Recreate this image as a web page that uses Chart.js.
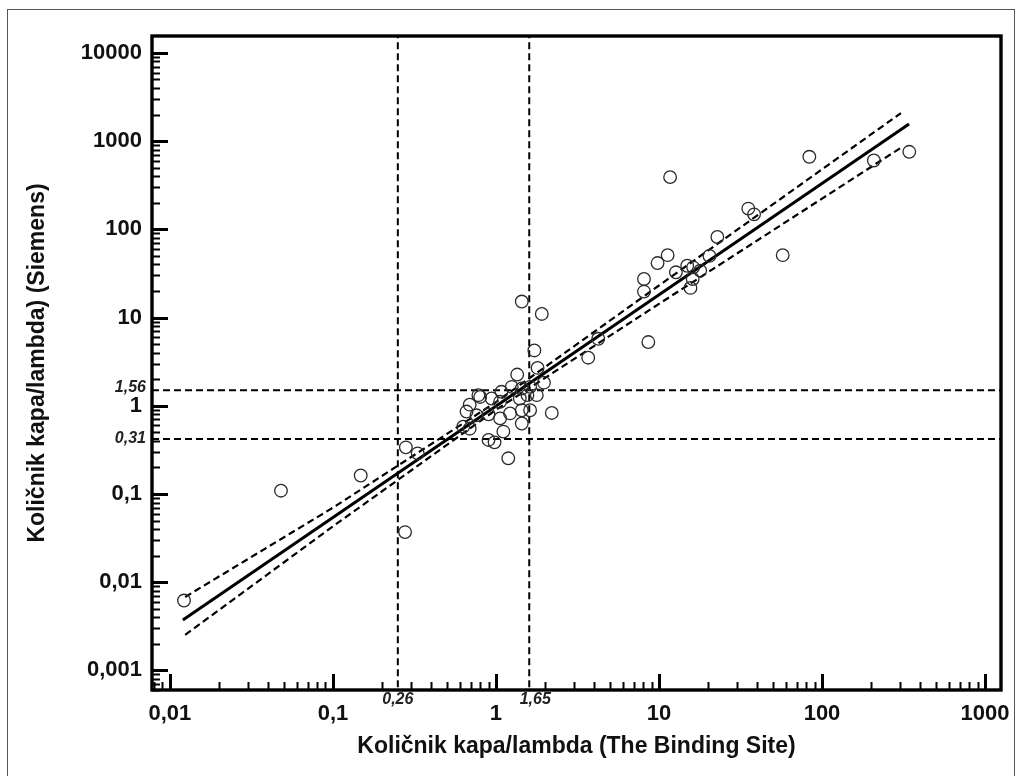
<!DOCTYPE html>
<html><head><meta charset="utf-8">
<script src="https://cdn.jsdelivr.net/npm/chart.js@4.4.0/dist/chart.umd.min.js"></script>
<style>html,body{margin:0;padding:0;background:#fff;}canvas{display:block;}</style>
</head><body>
<canvas id="c" width="1022" height="776"></canvas>
<script>
// ---- data ----
const bindingSite = [
  0.0122, 0.048, 0.148, 0.277, 0.28, 0.331,
  1.44, 1.91, 1.72, 1.80, 1.35, 1.97, 1.62, 1.44, 1.25, 1.78, 0.80, 0.94, 0.69, 1.06,
  1.40, 1.62, 1.44, 1.22, 2.20, 0.76, 0.90, 1.06, 1.44, 0.69, 1.11, 0.90, 0.98, 1.19,
  0.78, 0.63, 1.08, 0.66, 1.56,
  4.24, 3.68, 8.6, 8.09, 8.09, 15.6, 16.1, 17.9, 12.7, 16.2, 14.9, 20.4, 9.8, 11.3,
  57.4, 22.8, 38.3, 35.3, 11.7, 83.6, 208, 343
];
const siemens = [
  0.0062, 0.109, 0.162, 0.037, 0.338, 0.289,
  15.2, 11.0, 4.24, 2.69, 2.26, 1.83, 1.64, 1.57, 1.64, 1.32, 1.26, 1.21, 1.03, 1.11,
  1.21, 0.89, 0.89, 0.82, 0.83, 0.78, 0.80, 0.72, 0.63, 0.55, 0.51, 0.41, 0.385, 0.254,
  1.32, 0.58, 1.44, 0.86, 1.32,
  5.75, 3.51, 5.28, 27.4, 19.7, 21.7, 27.4, 34, 32.6, 37.1, 38.7, 50, 41.5, 51,
  51, 82, 148, 172, 391, 665, 604, 757
];
const fitX = [0.012, 342];
const fitY = [0.00374, 1563];
const upperX = [0.0124, 0.1, 1, 10, 305];
const upperY = [0.0068, 0.070, 1.10, 23.1, 2080];
const lowerX = [0.0124, 0.1, 1, 10, 310];
const lowerY = [0.00253, 0.043, 0.90, 14.3, 860];
const refX = [0.25, 1.6];
const refXLabels = ['0,26', '1,65'];
const refY = [1.5, 0.42];
const refYLabels = ['1,56', '0,31'];
const xTickLabels = {'-2':'0,01','-1':'0,1','0':'1','1':'10','2':'100','3':'1000'};
const yTickLabels = {'-3':'0,001','-2':'0,01','-1':'0,1','0':'1','1':'10','2':'100','3':'1000','4':'10000'};
const X_MIN = Math.pow(10, -2.110), X_MAX = Math.pow(10, 3.098);
const Y_MIN = Math.pow(10, -3.192), Y_MAX = Math.pow(10, 4.192);
const xTitle = 'Količnik kapa/lambda (The Binding Site)';
const yTitle = 'Količnik kapa/lambda) (Siemens)';

const FONT = '"Liberation Sans", Arial, sans-serif';
const zip = (xs, ys) => xs.map((x, i) => ({x, y: ys[i]}));

function decadeLabel(map) {
  return function (value) {
    const e = Math.log10(value), r = Math.round(e);
    if (Math.abs(e - r) < 1e-6 && map[r] !== undefined) return map[r];
    return '';
  };
}

const dash = [7, 4];
const datasets = [
  {data: zip(bindingSite, siemens), showLine: false, pointRadius: 6.3, pointHoverRadius: 6.3,
   pointBorderColor: '#2a2a2a', pointBackgroundColor: 'rgba(0,0,0,0)', pointBorderWidth: 1.3},
  {data: zip(fitX, fitY), showLine: true, borderColor: '#000', borderWidth: 3, pointRadius: 0},
  {data: zip(upperX, upperY), showLine: true, borderColor: '#000', borderWidth: 2.2, borderDash: dash, pointRadius: 0},
  {data: zip(lowerX, lowerY), showLine: true, borderColor: '#000', borderWidth: 2.2, borderDash: dash, pointRadius: 0}
];
refX.forEach(v => datasets.push({data: [{x: v, y: Y_MIN}, {x: v, y: Y_MAX}], showLine: true,
  borderColor: '#000', borderWidth: 2, borderDash: dash, pointRadius: 0}));
refY.forEach(v => datasets.push({data: [{x: X_MIN, y: v}, {x: X_MAX, y: v}], showLine: true,
  borderColor: '#000', borderWidth: 2, borderDash: dash, pointRadius: 0}));

const decor = {
  id: 'decor',
  beforeDraw(chart) {
    const ctx = chart.ctx;
    ctx.save();
    ctx.fillStyle = '#fff';
    ctx.fillRect(0, 0, chart.width, chart.height);
    ctx.strokeStyle = '#555';
    ctx.lineWidth = 1;
    ctx.strokeRect(7.5, 9.5, 1007, 800);
    ctx.restore();
  },
  afterDraw(chart) {
    const ctx = chart.ctx, a = chart.chartArea;
    const xs = chart.scales.x, ys = chart.scales.y;
    ctx.save();
    // inward tick marks
    ctx.strokeStyle = '#000';
    for (let e = -4; e <= 4; e++) {
      for (let d = 1; d <= 9; d++) {
        const v = d * Math.pow(10, e);
        const len = d === 1 ? 16 : 8;
        ctx.lineWidth = d === 1 ? 3 : 2;
        if (v >= xs.min && v <= xs.max) {
          const p = Math.round(xs.getPixelForValue(v)) + 0.5;
          ctx.beginPath(); ctx.moveTo(p, a.bottom); ctx.lineTo(p, a.bottom - len); ctx.stroke();
        }
        if (v >= ys.min && v <= ys.max) {
          const p = Math.round(ys.getPixelForValue(v)) + 0.5;
          ctx.beginPath(); ctx.moveTo(a.left, p); ctx.lineTo(a.left + len, p); ctx.stroke();
        }
      }
    }
    // plot frame
    ctx.lineWidth = 3.4;
    ctx.strokeRect(a.left, a.top, a.right - a.left, a.bottom - a.top);
    // reference value labels
    ctx.fillStyle = '#222';
    ctx.font = 'italic bold 16px ' + FONT;
    ctx.textBaseline = 'middle';
    ctx.textAlign = 'right';
    refY.forEach((v, i) => {
      const p = ys.getPixelForValue(v);
      ctx.fillText(refYLabels[i], a.left - 6, p + (i === 0 ? -3 : 0));
    });
    ctx.textAlign = 'center';
    refX.forEach((v, i) => {
      const p = xs.getPixelForValue(v);
      ctx.fillText(refXLabels[i], p + (i === 1 ? 6 : 0), a.bottom + 10);
    });
    ctx.restore();
  }
};

new Chart(document.getElementById('c'), {
  type: 'scatter',
  data: {datasets},
  plugins: [decor],
  options: {
    responsive: false,
    animation: false,
    events: [],
    layout: {padding: {left: 0, right: 21, top: 36, bottom: 0}},
    plugins: {legend: {display: false}, tooltip: {enabled: false}},
    scales: {
      x: {
        type: 'logarithmic', min: X_MIN, max: X_MAX,
        border: {display: false},
        grid: {display: false, drawTicks: false},
        ticks: {autoSkip: false, maxRotation: 0, padding: 11, color: '#111',
                font: {family: FONT, size: 22, weight: 'bold'}, callback: decadeLabel(xTickLabels)},
        title: {display: true, text: xTitle, color: '#111', padding: {top: 0, bottom: 16},
                font: {family: FONT, size: 23, weight: 'bold'}},
        afterFit(s) { s.height = 86; }
      },
      y: {
        type: 'logarithmic', min: Y_MIN, max: Y_MAX,
        border: {display: false},
        grid: {display: false, drawTicks: false},
        ticks: {autoSkip: false, padding: 10, color: '#111',
                font: {family: FONT, size: 22, weight: 'bold'}, callback: decadeLabel(yTickLabels)},
        title: {display: true, text: yTitle, color: '#111', padding: {top: 24, bottom: 0},
                font: {family: FONT, size: 23, weight: 'bold'}},
        afterFit(s) { s.width = 152; }
      }
    }
  }
});
</script>
</body></html>
